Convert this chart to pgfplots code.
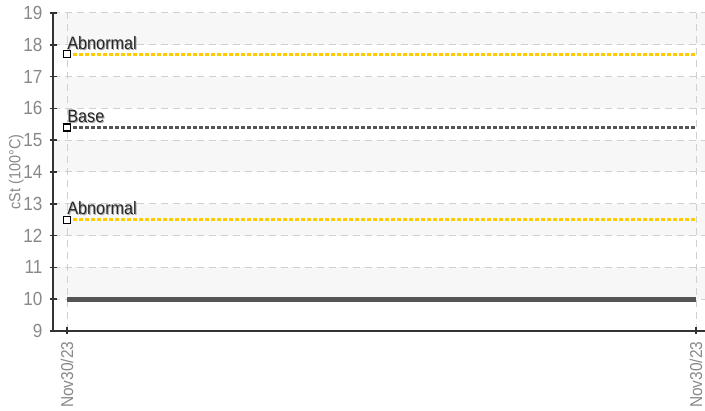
\documentclass[border=0pt]{standalone}
\usepackage{fontspec}
\setmainfont[FakeStretch=0.9]{Liberation Sans}
\usepackage{pgfplots}
\pgfplotsset{compat=1.18}
\definecolor{band}{HTML}{F7F7F7}
\definecolor{gold}{HTML}{FFCC00}
\definecolor{dgray}{HTML}{555555}
\definecolor{axgray}{HTML}{333333}
\definecolor{lblgray}{HTML}{888888}
\definecolor{gridgray}{HTML}{D0D0D0}
\newcommand\shtext[1]{\makebox[0pt][l]{\raisebox{-0.5pt}{\hspace{0.5pt}\textcolor{black!35}{#1}}}\textcolor{black!85}{#1}}
\begin{document}
\begin{tikzpicture}
\begin{axis}[name=ax, set layers, scale only axis, width=326pt, height=159pt,
  xmin=-0.0223, xmax=1.0143, ymin=9, ymax=19,
  axis x line*=bottom, axis y line*=left,
  axis line style={draw=axgray, line width=0.9pt},
  xtick={0,1}, xticklabels={Nov30/23,Nov30/23},
  ytick={9,10,...,19},
  tick align=center, major tick length=3.5pt,
  tick style={draw=axgray, line width=0.8pt},
  grid=major, grid style={draw=gridgray, line width=0.5pt, dash pattern=on 3.5pt off 2.5pt},
  ticklabel style={font=\fontsize{9.5}{10}\selectfont, text=lblgray},
  xticklabel style={rotate=90, anchor=east, font=\fontsize{8.6}{10}\selectfont},
  /pgf/number format/assume math mode=true,
  ylabel={cSt (100°C)}, ylabel style={font=\fontsize{8}{9}\selectfont, text=lblgray},
  ylabel shift=-7pt,
  clip=false]
\addplot[on layer=axis background, draw=none, fill=band] coordinates {(-0.0223,18) (1.0143,18) (1.0143,19) (-0.0223,19)} -- cycle;
\addplot[on layer=axis background, draw=none, fill=band] coordinates {(-0.0223,16) (1.0143,16) (1.0143,17) (-0.0223,17)} -- cycle;
\addplot[on layer=axis background, draw=none, fill=band] coordinates {(-0.0223,14) (1.0143,14) (1.0143,15) (-0.0223,15)} -- cycle;
\addplot[on layer=axis background, draw=none, fill=band] coordinates {(-0.0223,12) (1.0143,12) (1.0143,13) (-0.0223,13)} -- cycle;
\addplot[on layer=axis background, draw=none, fill=band] coordinates {(-0.0223,10) (1.0143,10) (1.0143,11) (-0.0223,11)} -- cycle;
\addplot[dgray, line width=2.5pt] coordinates {(0,10) (1,10)};
\addplot[gold, line width=1.7pt, dash pattern=on 2pt off 1pt, mark=square*, mark indices={1}, mark size=1.75pt, mark options={solid, fill=white, draw=black, line width=0.6pt}] coordinates {(0,12.5) (1,12.5)};
\addplot[dgray, line width=1.4pt, dash pattern=on 2pt off 1pt, mark=square*, mark indices={1}, mark size=1.75pt, mark options={solid, fill=white, draw=black, line width=0.6pt}] coordinates {(0,15.4) (1,15.4)};
\addplot[gold, line width=1.7pt, dash pattern=on 2pt off 1pt, mark=square*, mark indices={1}, mark size=1.75pt, mark options={solid, fill=white, draw=black, line width=0.6pt}] coordinates {(0,17.7) (1,17.7)};
\node[anchor=base west, inner sep=0pt, yshift=2.5pt, font=\fontsize{9}{10}\selectfont] at (axis cs:0,17.7) {\shtext{Abnormal}};
\node[anchor=base west, inner sep=0pt, yshift=2.5pt, font=\fontsize{9}{10}\selectfont] at (axis cs:0,15.4) {\shtext{Base}};
\node[anchor=base west, inner sep=0pt, yshift=2.5pt, font=\fontsize{9}{10}\selectfont] at (axis cs:0,12.5) {\shtext{Abnormal}};
\end{axis}
\pgfresetboundingbox
\path ([xshift=-26.5pt,yshift=-40pt]ax.south west) rectangle ([yshift=6.5pt]ax.north east);
\end{tikzpicture}
\end{document}
